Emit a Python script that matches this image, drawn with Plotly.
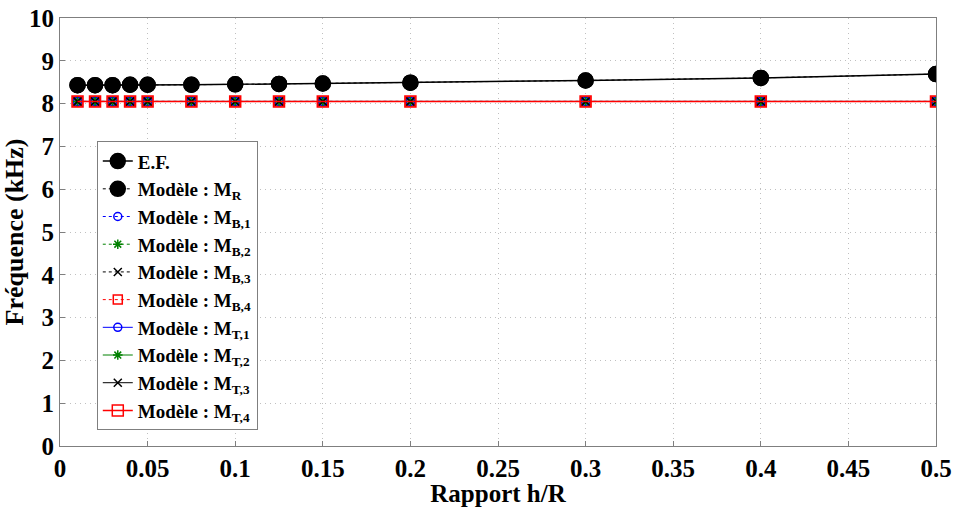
import plotly.graph_objects as go

x_vals = [0.01, 0.02, 0.03, 0.04, 0.05, 0.075, 0.1, 0.125, 0.15, 0.2, 0.3, 0.4, 0.5]
ef_vals = [8.43, 8.43, 8.43, 8.44, 8.44, 8.44, 8.45, 8.46, 8.47, 8.49, 8.54, 8.60, 8.69]
mr_vals = [8.43, 8.43, 8.43, 8.44, 8.44, 8.44, 8.45, 8.46, 8.47, 8.49, 8.54, 8.60, 8.69]
mb1_vals = [8.05] * 13
mb2_vals = [8.05] * 13
mb3_vals = [8.05] * 13
mb4_vals = [8.05] * 13
mt1_vals = [8.05] * 13
mt2_vals = [8.05] * 13
mt3_vals = [8.05] * 13
mt4_vals = [8.05] * 13

x_ticks = [0, 0.05, 0.1, 0.15, 0.2, 0.25, 0.3, 0.35, 0.4, 0.45, 0.5]
x_tick_labels = ["0", "0.05", "0.1", "0.15", "0.2", "0.25", "0.3", "0.35", "0.4", "0.45", "0.5"]
y_ticks = list(range(0, 11))

series = [
    ("E.F.", ef_vals, "black", "solid", "circle", 15, 1.5),
    ("Modèle : M<sub>R</sub>", mr_vals, "black", "dot", "circle", 15, 1),
    ("Modèle : M<sub>B,1</sub>", mb1_vals, "blue", "dot", "circle-open", 8, 1),
    ("Modèle : M<sub>B,2</sub>", mb2_vals, "green", "dot", "asterisk-open", 8, 1),
    ("Modèle : M<sub>B,3</sub>", mb3_vals, "black", "dot", "x-thin-open", 8, 1),
    ("Modèle : M<sub>B,4</sub>", mb4_vals, "red", "dot", "square-open", 9, 1),
    ("Modèle : M<sub>T,1</sub>", mt1_vals, "blue", "solid", "circle-open", 8, 1),
    ("Modèle : M<sub>T,2</sub>", mt2_vals, "green", "solid", "asterisk-open", 8, 1),
    ("Modèle : M<sub>T,3</sub>", mt3_vals, "black", "solid", "x-thin-open", 8, 1),
    ("Modèle : M<sub>T,4</sub>", mt4_vals, "red", "solid", "square-open", 11, 1.5),
]

fig = go.Figure()
for name, vals, color, dash, symbol, size, width in series:
    fig.add_trace(go.Scatter(
        x=x_vals, y=vals, name=name, mode="lines+markers",
        line=dict(color=color, dash=dash, width=width),
        marker=dict(symbol=symbol, size=size, color=color,
                    line=dict(color=color, width=1.5)),
    ))

font_family = "Liberation Serif"
fig.update_layout(
    width=956, height=507,
    margin=dict(l=60, r=20, t=18, b=61),
    paper_bgcolor="white", plot_bgcolor="white",
    font=dict(family=font_family, color="black", size=25, weight="bold"),
    showlegend=True,
    legend=dict(
        x=0.042, y=0.712, xanchor="left", yanchor="top",
        bgcolor="white", bordercolor="#7f7f7f", borderwidth=1,
        font=dict(family=font_family, size=19, color="black", weight="bold"),
        tracegroupgap=0, itemwidth=30,
    ),
    xaxis=dict(
        range=[0, 0.5], tickvals=x_ticks, ticktext=x_tick_labels,
        showgrid=True, gridcolor="#c0c0c0", griddash="1px,4px", gridwidth=1,
        showline=True, linecolor="#7f7f7f", mirror=True,
        ticks="inside", ticklen=5, tickcolor="#7f7f7f",
        zeroline=False, automargin=False,
        title=dict(text="Rapport h/R", standoff=0,
                   font=dict(family=font_family, size=25, weight="bold")),
        tickfont=dict(family=font_family, size=25, weight="bold"),
    ),
    yaxis=dict(
        range=[0, 10], tickvals=y_ticks,
        showgrid=True, gridcolor="#c0c0c0", griddash="1px,4px", gridwidth=1,
        showline=True, linecolor="#7f7f7f", mirror=True,
        ticks="inside", ticklen=5, tickcolor="#7f7f7f",
        zeroline=False, automargin=False,
        title=dict(text="Fréquence (kHz)", standoff=2,
                   font=dict(family=font_family, size=26, weight="bold")),
        tickfont=dict(family=font_family, size=25, weight="bold"),
    ),
)

fig.write_html("out.html", config={"displayModeBar": False},
               post_script="document.body.style.margin='0';")
